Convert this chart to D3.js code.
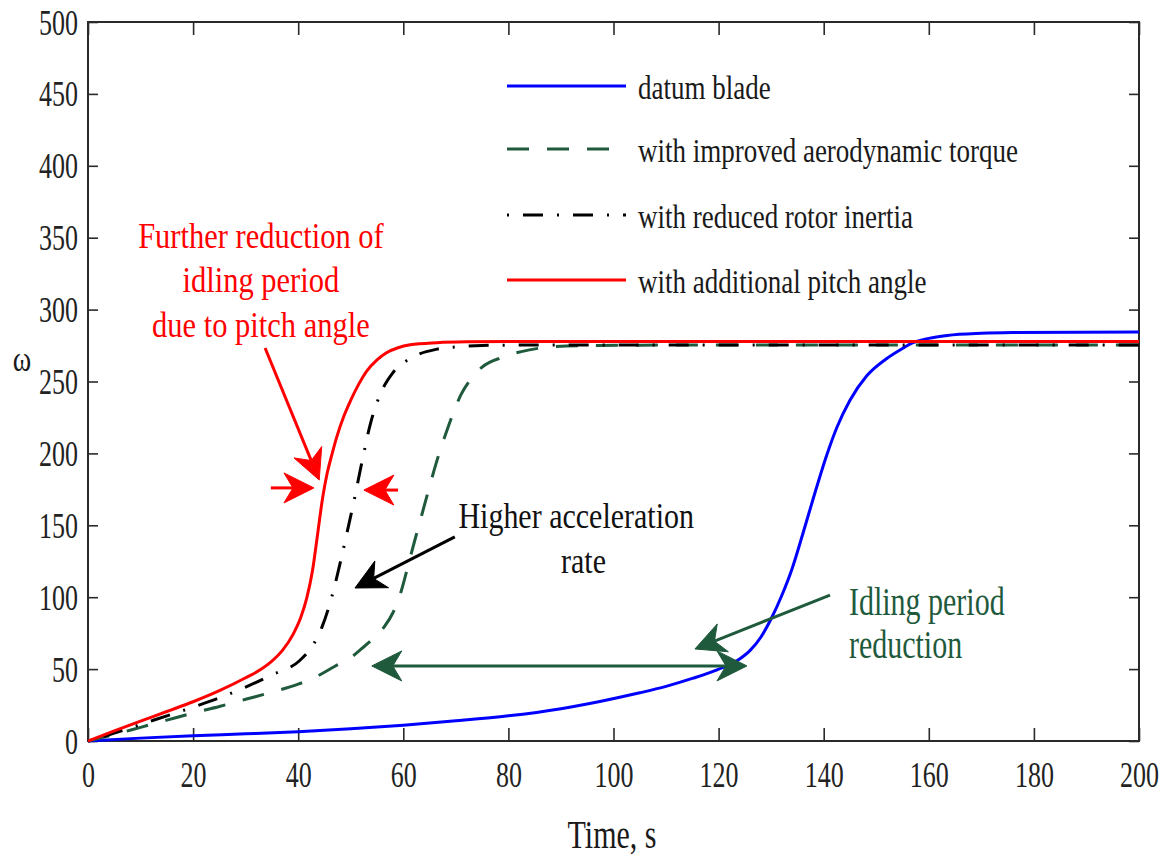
<!DOCTYPE html>
<html>
<head>
<meta charset="utf-8">
<script src="https://cdn.jsdelivr.net/npm/d3@7"></script>
<style>
  html, body { margin: 0; padding: 0; background: #ffffff; }
  text { font-family: "Liberation Serif", "Times New Roman", serif; }
</style>
</head>
<body>
<svg id="chart" width="1166" height="856"></svg>
<script>
// Axis ticks
const xTicks = [0, 20, 40, 60, 80, 100, 120, 140, 160, 180, 200];
const yTicks = [0, 50, 100, 150, 200, 250, 300, 350, 400, 450, 500];

// Rotor speed ω versus time for each blade configuration
const datumT = [0, 10, 20, 30, 40, 50, 60, 70, 80, 90, 97.4, 105, 110, 115, 119.7, 124, 126, 128, 130, 132, 134, 136.1, 138.7, 140.6, 142.5, 145, 148.2, 152, 155, 157, 160, 163.5, 170, 176, 200];
const datumW = [0, 2, 3.7, 5, 6.5, 8.5, 11, 14, 17.5, 22.5, 27.5, 33.5, 38, 43.5, 49.5, 57, 63, 72, 85, 101, 120, 145, 177, 199, 218, 237, 254, 266, 273, 277, 280, 282, 283.5, 284, 284.5];

const aeroT = [0, 5, 10, 15, 20, 25, 30, 35, 40, 43.6, 47, 50, 52, 54.5, 56.5, 58, 59.5, 60.7, 62, 63.5, 64.4, 66.4, 68.3, 69.5, 71, 72.7, 75, 79, 84, 88, 95, 110, 200];
const aeroW = [0, 4.5, 9.5, 14.5, 19.5, 24, 29, 34, 39.5, 45, 52, 58, 64, 72, 80, 89, 103, 119, 137, 157, 169, 195, 216, 228, 241, 251, 260, 267, 272, 274, 275, 275.3, 275.3];

const inertiaT = [0, 5, 10, 15, 20, 25, 30, 35, 40.3, 42.5, 44.5, 46.6, 48, 49.9, 50.8, 51.4, 52.3, 53.7, 55.6, 58, 61.3, 66.4, 70, 75, 80, 200];
const inertiaW = [0, 5.5, 11.5, 17.5, 23.5, 30, 37.5, 46, 56, 65, 79, 103, 124, 155, 170, 181, 197, 220, 241, 256, 266, 272.5, 274, 275, 275.3, 275.3];

const pitchT = [0, 5, 10, 15, 20, 25, 30, 33, 35, 37, 39, 40.5, 41.6, 42.7, 43.7, 44.6, 45.5, 46.4, 47.3, 48.7, 50, 51.5, 53, 55, 56.8, 59, 61.3, 66.4, 72, 80, 200];
const pitchW = [0, 7, 13.8, 20.5, 27.3, 35, 44, 50, 55.5, 63, 74, 86, 99, 118, 144, 168, 186, 199, 211, 226, 237, 248, 257, 265, 270, 273.5, 275.5, 277, 277.6, 277.8, 277.8];

const seriesNames = ["datum blade", "with improved aerodynamic torque", "with reduced rotor inertia", "with additional pitch angle"];
const seriesColors = ["#0000ff", "#1f5a3c", "#000000", "#ff0000"];
const seriesDash = [null, "22,18", "2,14,20,14", null];

const annoGreen = "#1f5a3c";

const width = 1166, height = 856;
const margin = { top: 22, right: 27, bottom: 115, left: 88 };
const iw = width - margin.left - margin.right;
const ih = height - margin.top - margin.bottom;

const svg = d3.select("#chart");
const g = svg.append("g").attr("transform", `translate(${margin.left},${margin.top})`);

const x = d3.scaleLinear().domain([0, 200]).range([0, iw]);
const y = d3.scaleLinear().domain([0, 500]).range([ih, 0]);

const axisColor = "#2a2a2a";

// Axes with inward ticks, mirrored on top and right
function styleAxis(sel) {
  sel.select(".domain").remove();
  sel.selectAll(".tick line").attr("stroke", axisColor).attr("stroke-width", 1.6);
}

const gx = g.append("g").attr("transform", `translate(0,${ih})`)
  .call(d3.axisBottom(x).tickValues(xTicks).tickSizeInner(-13).tickSizeOuter(0).tickFormat(d3.format("d")));
styleAxis(gx);
gx.selectAll(".tick text")
  .attr("y", 0).attr("dy", null)
  .attr("transform", "translate(0,46) scale(1,1.35)")
  .attr("font-size", 26).attr("fill", "#222")
  .style("font-family", "'Liberation Serif', serif");

const gy = g.append("g")
  .call(d3.axisLeft(y).tickValues(yTicks).tickSizeInner(-10).tickSizeOuter(0).tickPadding(10).tickFormat(d3.format("d")));
styleAxis(gy);
gy.selectAll(".tick text")
  .attr("dy", null)
  .attr("transform", "translate(0,12) scale(1,1.35)")
  .attr("font-size", 26).attr("fill", "#222")
  .style("font-family", "'Liberation Serif', serif");

const gt = g.append("g")
  .call(d3.axisTop(x).tickValues(xTicks).tickSizeInner(-13).tickSizeOuter(0).tickFormat(""));
styleAxis(gt);
const gr = g.append("g").attr("transform", `translate(${iw},0)`)
  .call(d3.axisRight(y).tickValues(yTicks).tickSizeInner(-10).tickSizeOuter(0).tickFormat(""));
styleAxis(gr);

// Plot frame
g.append("rect").attr("x", 0).attr("y", 0).attr("width", iw).attr("height", ih)
  .attr("fill", "none").attr("stroke", axisColor).attr("stroke-width", 2);

// Curves
const line = d3.line().x(d => x(d[0])).y(d => y(d[1])).curve(d3.curveMonotoneX);
const series = [
  { t: datumT, w: datumW, i: 0 },
  { t: aeroT, w: aeroW, i: 1 },
  { t: inertiaT, w: inertiaW, i: 2 },
  { t: pitchT, w: pitchW, i: 3 }
];
series.forEach(s => {
  const pts = s.t.map((t, k) => [t, s.w[k]]);
  g.append("path").datum(pts)
    .attr("d", line)
    .attr("fill", "none")
    .attr("stroke", seriesColors[s.i])
    .attr("stroke-width", 3)
    .attr("stroke-dasharray", seriesDash[s.i])
    .attr("stroke-linejoin", "round");
});

// Stretched serif text helper
function label(parent, px, py, str, opts) {
  const o = Object.assign({ size: 30, k: 1.2, anchor: "start", fill: "#111" }, opts || {});
  return parent.append("text")
    .attr("transform", `translate(${px},${py}) scale(1,${o.k})`)
    .attr("text-anchor", o.anchor)
    .attr("font-size", o.size)
    .attr("fill", o.fill)
    .text(str);
}

// Legend
const legX0 = 419, legX1 = 538, legTextX = 550;
const legRows = [64, 127, 193, 258];
seriesNames.forEach((name, i) => {
  g.append("line")
    .attr("x1", legX0).attr("x2", legX1)
    .attr("y1", legRows[i]).attr("y2", legRows[i])
    .attr("stroke", seriesColors[i]).attr("stroke-width", 3)
    .attr("stroke-dasharray", seriesDash[i]);
  label(g, legTextX, legRows[i] + 12.5, name, { size: 27, k: 1.25, fill: "#1a1a1a" });
});

// Axis titles
label(svg, 612, 848, "Time, s", { size: 30, k: 1.35, anchor: "middle", fill: "#1a1a1a" });
label(svg, 22, 371, "ω", { size: 28, k: 1.3, anchor: "middle", fill: "#1a1a1a" });

// Arrow with a notched head, endpoints in data units
function arrow(t0, w0, t1, w1, color, both) {
  const L = 30, W = 15, N = 21;
  const ax = x(t0), ay = y(w0), bx = x(t1), by = y(w1);
  const len = Math.hypot(bx - ax, by - ay);
  const ux = (bx - ax) / len, uy = (by - ay) / len;
  const px = -uy, py = ux;
  function head(tx, ty, dx, dy) {
    const pts = [
      [tx, ty],
      [tx - dx * L + px * W, ty - dy * L + py * W],
      [tx - dx * N, ty - dy * N],
      [tx - dx * L - px * W, ty - dy * L - py * W]
    ];
    g.append("path").attr("d", "M" + pts.map(p => p.join(",")).join("L") + "Z")
      .attr("fill", color).attr("stroke", color).attr("stroke-width", 1).attr("stroke-linejoin", "miter");
  }
  const sx = both ? ax + ux * N : ax, sy = both ? ay + uy * N : ay;
  g.append("line")
    .attr("x1", sx).attr("y1", sy)
    .attr("x2", bx - ux * N).attr("y2", by - uy * N)
    .attr("stroke", color).attr("stroke-width", 3);
  head(bx, by, ux, uy);
  if (both) head(ax, ay, -ux, -uy);
}

// Annotations
const ann = g.append("g");
label(ann, x(32.9), y(342.8), "Further reduction of", { size: 30.5, k: 1.18, anchor: "middle", fill: "#ff0000" });
label(ann, x(32.9), y(312.2), "idling period", { size: 30.5, k: 1.18, anchor: "middle", fill: "#ff0000" });
label(ann, x(32.9), y(281), "due to pitch angle", { size: 30.5, k: 1.18, anchor: "middle", fill: "#ff0000" });
arrow(33.7, 273.3, 44.0, 181.5, "#ff0000");
arrow(34.8, 176, 43.0, 176, "#ff0000");
arrow(59.0, 174.5, 52.5, 174.5, "#ff0000");

label(ann, x(92.9), y(148.1), "Higher acceleration", { size: 30, k: 1.18, anchor: "middle", fill: "#111" });
label(ann, x(94.3), y(116.8), "rate", { size: 30, k: 1.18, anchor: "middle", fill: "#111" });
arrow(69.8, 141.9, 50.8, 106.4, "#000000");

label(ann, x(144.8), y(87.6), "Idling period", { size: 30, k: 1.3, fill: annoGreen });
label(ann, x(144.8), y(57.7), "reduction", { size: 30, k: 1.3, fill: annoGreen });
arrow(54.0, 52.2, 125.4, 52.2, annoGreen, true);
arrow(141.2, 101.5, 115.5, 64, annoGreen);
</script>
</body>
</html>
